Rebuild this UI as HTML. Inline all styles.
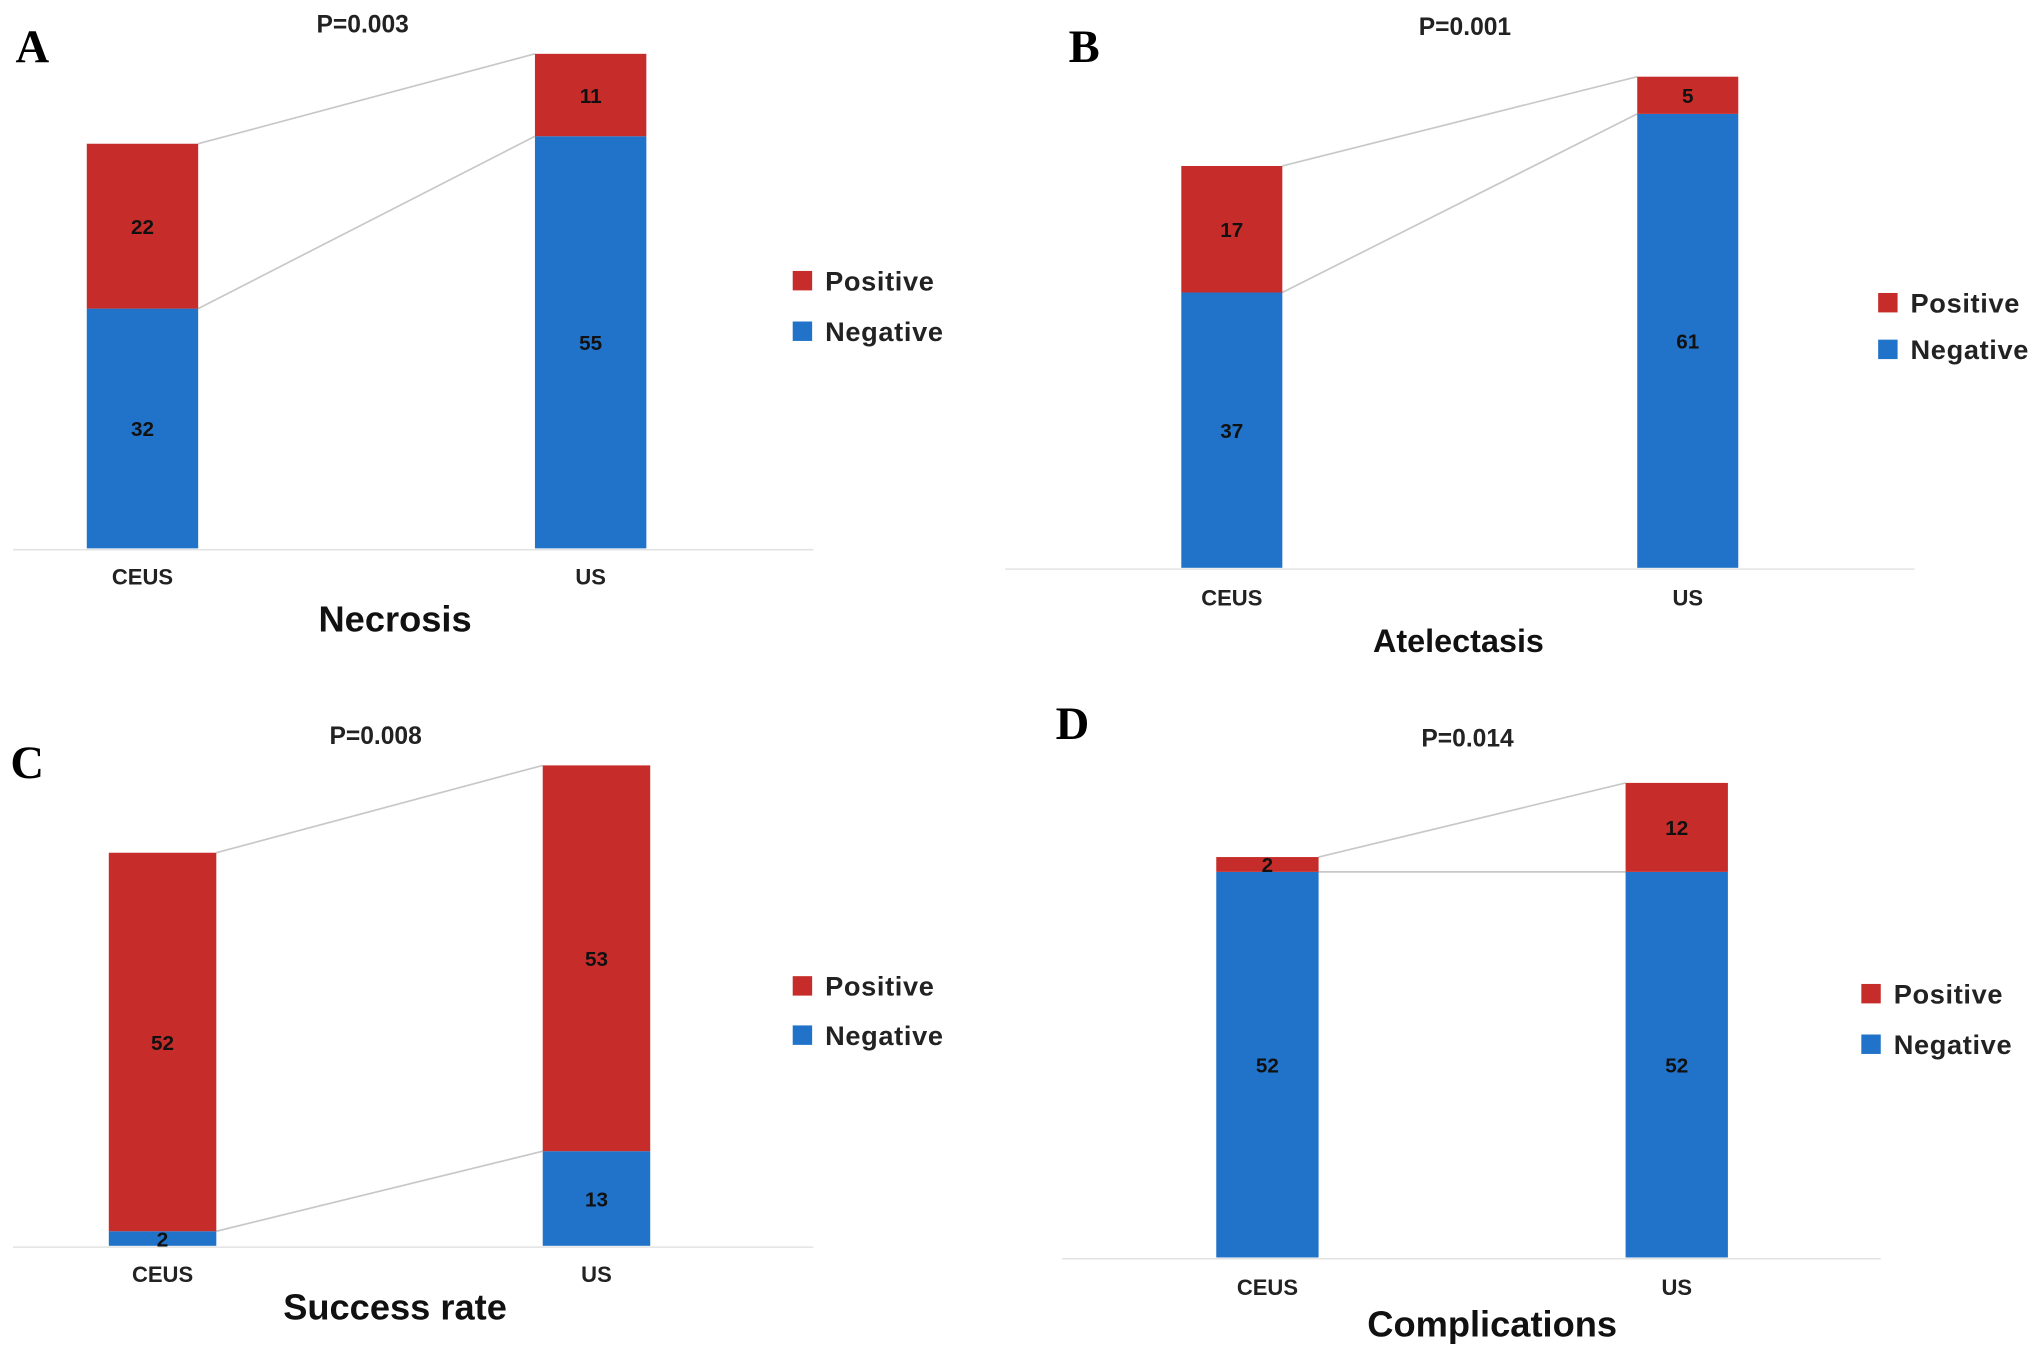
<!DOCTYPE html>
<html><head><meta charset="utf-8"><style>
html,body{margin:0;padding:0;background:#fff;}
svg{display:block;}
text{font-family:"Liberation Sans",sans-serif;font-weight:bold;}
</style></head><body>
<svg id="fig" width="2031" height="1356" viewBox="0 0 1568 1046" preserveAspectRatio="none" xmlns="http://www.w3.org/2000/svg"></svg>
<script>
const panelNames = ["necrosis", "atelectasis", "success-rate", "complications"];
const panelLetters = ["A", "B", "C", "D"];
const panelTitles = ["Necrosis", "Atelectasis", "Success rate", "Complications"];
const pValues = ["P=0.003", "P=0.001", "P=0.008", "P=0.014"];
const categories = ["CEUS", "US"];
const negativeValues = [[32, 55], [37, 61], [2, 13], [52, 52]];
const positiveValues = [[22, 11], [17, 5], [52, 53], [2, 12]];

const layouts = [
  {bx:[67,413], bw:86, base:423, scale:5.78, ax:[10,628], lblY:451, titleX:305, titleY:487, titleSize:28, pX:280, pY:25, legX:612, legY:[217,256], letX:12, letY:48},
  {bx:[912,1264], bw:78, base:438, scale:5.74, ax:[776,1478], lblY:467, titleX:1126, titleY:503, titleSize:25, pX:1131, pY:27, legX:1450, legY:[234,270], letX:825, letY:48},
  {bx:[84,419], bw:83, base:961, scale:5.615, ax:[10,628], lblY:989, titleX:305, titleY:1018, titleSize:28, pX:290, pY:574, legX:612, legY:[761,799], letX:8, letY:600},
  {bx:[939,1255], bw:79, base:970, scale:5.72, ax:[820,1452], lblY:999, titleX:1152, titleY:1031, titleSize:28, pX:1133, pY:576, legX:1437, legY:[767,806], letX:815, letY:570}
];
const RED = "#c62d2a", BLUE = "#2073c8", NS = "http://www.w3.org/2000/svg";
const svg = document.getElementById("fig");
function mk(tag, attrs, parent){ const e=document.createElementNS(NS,tag); for(const k in attrs) e.setAttribute(k,attrs[k]); (parent||svg).appendChild(e); return e; }

panelNames.forEach((pn, i) => {
  const L = layouts[i];
  const g = mk("g", {});
  
  
  const y = v => L.base - v * L.scale;
  const ax = mk("line", {x1:L.ax[0], x2:L.ax[1], y1:L.base+1, y2:L.base+1, stroke:"#e3e3e3", "stroke-width":1.2}, g);
  
  
  const negTop = categories.map((c,j)=>y(negativeValues[i][j]));
  const allTop = categories.map((c,j)=>y(negativeValues[i][j]+positiveValues[i][j]));
  [negTop, allTop].forEach((tops, k) => {
    const ln = mk("line", {x1:L.bx[0]+L.bw, y1:tops[0], x2:L.bx[1], y2:tops[1], stroke:"#c8c8c8", "stroke-width":1.3}, g);
    
    
  });
  categories.forEach((c, j) => {
    const n = negativeValues[i][j], p = positiveValues[i][j];
    const rn = mk("rect", {x:L.bx[j], y:y(n), width:L.bw, height:n*L.scale, fill:BLUE}, g);
    
    
    const rp = mk("rect", {x:L.bx[j], y:y(n+p), width:L.bw, height:p*L.scale, fill:RED}, g);
    
    
    const cx = L.bx[j] + L.bw/2;
    const tn = mk("text", {x:cx, y:(y(n)+L.base)/2+6, "text-anchor":"middle", "font-size":16, fill:"#111"}, g);
    tn.textContent = n;
    
    
    const tp = mk("text", {x:cx, y:(y(n+p)+y(n))/2+6, "text-anchor":"middle", "font-size":16, fill:"#111"}, g);
    tp.textContent = p;
    
    
    const cl = mk("text", {x:cx, y:L.lblY, "text-anchor":"middle", "font-size":17, fill:"#222"}, g);
    cl.textContent = c;
    
    
  });
  const tt = mk("text", {x:L.titleX, y:L.titleY, "text-anchor":"middle", "font-size":L.titleSize, fill:"#111"}, g);
  tt.textContent = panelTitles[i];
  
  
  const pt = mk("text", {x:L.pX, y:L.pY, "text-anchor":"middle", "font-size":19, fill:"#222"}, g);
  pt.textContent = pValues[i];
  
  
  const lt = mk("text", {x:L.letX, y:L.letY, "font-size":36, fill:"#000", style:"font-family:'Liberation Serif',serif"}, g);
  lt.textContent = panelLetters[i];
  
  
  [["Positive", RED], ["Negative", BLUE]].forEach((e, k) => {
    const sq = mk("rect", {x:L.legX, y:L.legY[k]-8, width:15, height:15, fill:e[1]}, g);
    
    
    const lx = mk("text", {x:L.legX+25, y:L.legY[k]+7, "font-size":21, "letter-spacing":0.5, fill:"#222"}, g);
    lx.textContent = e[0];
    
    
  });
});
</script>
</body></html>
